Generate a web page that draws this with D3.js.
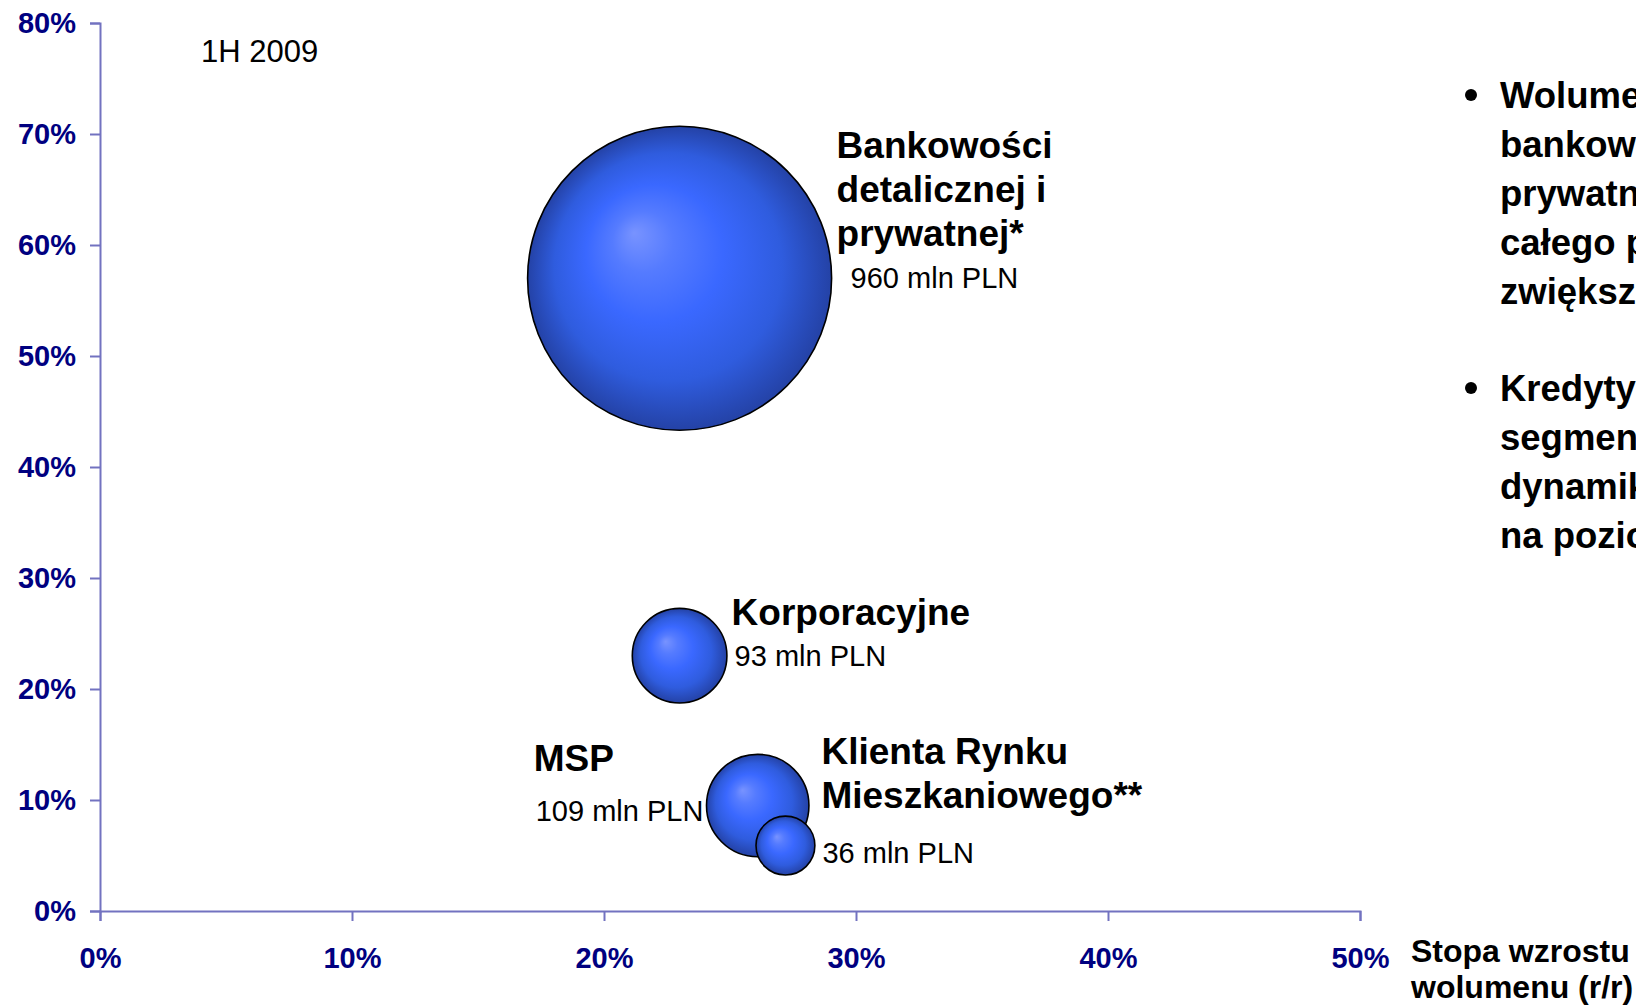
<!DOCTYPE html>
<html>
<head>
<meta charset="utf-8">
<script src="https://cdn.jsdelivr.net/npm/d3@7"></script>
<style>
  html, body { margin: 0; padding: 0; background: #fff; overflow: hidden; }
  svg { display: block; font-family: "Liberation Sans", Arial, sans-serif; }
</style>
</head>
<body>
<svg id="chart" width="1636" height="1005"></svg>
<script>
// ---- data ----
const segments = ["Bankowości detalicznej i prywatnej*", "Korporacyjne", "MSP", "Klienta Rynku Mieszkaniowego**"];
const growth = [0.23, 0.23, 0.261, 0.272];   // x: stopa wzrostu wolumenu (r/r)
const share  = [0.57, 0.23, 0.095, 0.059];   // y
const volume = [960, 93, 109, 36];           // bubble size, mln PLN
const xTicks = [0, 0.1, 0.2, 0.3, 0.4, 0.5];
const yTicks = [0, 0.1, 0.2, 0.3, 0.4, 0.5, 0.6, 0.7, 0.8];
const periodLabel = "1H 2009";
const xTitle = ["Stopa wzrostu", "wolumenu (r/r)"];
const bullets = [
  ["Wolumen kredytów", "bankowości detalicznej i", "prywatnej stanowi większość", "całego portfela,", "zwiększając się"],
  ["Kredyty dla", "segmentu MSP", "dynamika wzrostu", "na poziomie"]
];

const svg = d3.select("#chart");
const axisColor = "#7272c0";
const tickColor = "#000080";

const x = d3.scaleLinear().domain([0, 0.5]).range([100, 1360]);
const y = d3.scaleLinear().domain([0, 0.8]).range([911, 23]);
const r = d3.scaleSqrt().domain([0, 960]).range([0, 152]);

// gradient
const defs = svg.append("defs");
const grad = defs.append("radialGradient").attr("id", "ball")
  .attr("cx", 0.5).attr("cy", 0.5).attr("r", 0.5).attr("fx", 0.35).attr("fy", 0.35);
[[0, "#7893ff"], [0.2, "#557bff"], [0.45, "#3a68ff"], [0.75, "#2f5cde"], [1, "#2442a6"]]
  .forEach(([o, c]) => grad.append("stop").attr("offset", o).attr("stop-color", c));

// axes
const fmt = d => Math.round(d * 100) + "%";
const gx = svg.append("g").attr("transform", `translate(0,${y(0)})`)
  .call(d3.axisBottom(x).tickValues(xTicks).tickFormat(fmt).tickSize(10).tickPadding(31));
const gy = svg.append("g").attr("transform", `translate(${x(0)},0)`)
  .call(d3.axisLeft(y).tickValues(yTicks).tickFormat(fmt).tickSize(10).tickPadding(14));
[gx, gy].forEach(g => {
  g.selectAll("path.domain").attr("stroke", axisColor).attr("stroke-width", 2);
  g.selectAll(".tick line").attr("stroke", axisColor).attr("stroke-width", 2);
  g.selectAll(".tick text").attr("fill", tickColor).attr("font-size", 29)
    .attr("font-weight", "bold").attr("font-family", "'Liberation Sans', Arial, sans-serif");
});
gx.selectAll(".tick text").attr("dy", "0.55em");

// bubbles
const data = segments.map((s, i) => ({ s, gx: growth[i], gy: share[i], v: volume[i] }));
svg.append("g").selectAll("circle").data(data).join("circle")
  .attr("cx", d => x(d.gx)).attr("cy", d => y(d.gy)).attr("r", d => r(d.v))
  .attr("fill", "url(#ball)").attr("stroke", "#000").attr("stroke-width", 1.6);

// labels (offsets relative to bubble centre)
const labelLayout = [
  { lines: ["Bankowości", "detalicznej i", "prywatnej*"], dx: 157, dy: -120, vdx: 171, vdy: 10 },
  { lines: ["Korporacyjne"], dx: 52, dy: -31, vdx: 55, vdy: 10 },
  { lines: ["MSP"], dx: -224, dy: -35, vdx: -222, vdy: 15 },
  { lines: ["Klienta Rynku", "Mieszkaniowego**"], dx: 36, dy: -82, vdx: 37, vdy: 17 }
];
const lg = svg.append("g");
data.forEach((d, i) => {
  const L = labelLayout[i];
  const cx = x(d.gx), cy = y(d.gy);
  const t = lg.append("text").attr("font-weight", "bold").attr("font-size", 37).attr("fill", "#000");
  L.lines.forEach((ln, k) => {
    t.append("tspan").attr("x", cx + L.dx).attr("y", cy + L.dy + k * 44).text(ln);
  });
  lg.append("text").attr("x", cx + L.vdx).attr("y", cy + L.vdy)
    .attr("font-size", 29).attr("fill", "#000").text(d.v + " mln PLN");
});

// period label
svg.append("text").attr("x", 201).attr("y", 62).attr("font-size", 31).attr("fill", "#000").text(periodLabel);

// x axis title
const xt = svg.append("text").attr("font-weight", "bold").attr("font-size", 32).attr("fill", "#000");
xTitle.forEach((ln, k) => xt.append("tspan").attr("x", 1411).attr("y", 962 + k * 36).text(ln));

// bullets on the right (clipped by page edge)
const bl = svg.append("g");
const groupTop = [108, 401];
bullets.forEach((lines, gi) => {
  bl.append("circle").attr("cx", 1471).attr("cy", groupTop[gi] - 13).attr("r", 6).attr("fill", "#000");
  const t = bl.append("text").attr("font-weight", "bold").attr("font-size", 36.5).attr("fill", "#000");
  lines.forEach((ln, k) => t.append("tspan").attr("x", 1500).attr("y", groupTop[gi] + k * 49).text(ln));
});
</script>
</body>
</html>
